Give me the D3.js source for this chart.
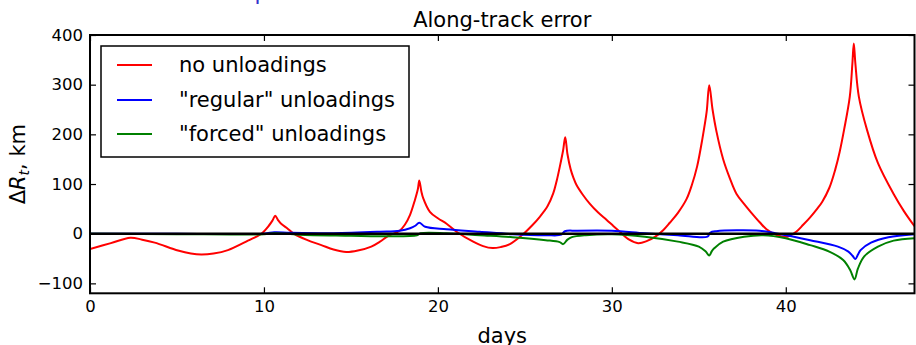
<!DOCTYPE html>
<html>
<head>
<meta charset="utf-8">
<script src="https://cdn.jsdelivr.net/npm/d3@7"></script>
<style>
  html, body { margin: 0; padding: 0; background: #fff; }
  svg { display: block; font-family: "DejaVu Sans", sans-serif; }
</style>
</head>
<body>
<svg id="chart" width="916" height="345"></svg>
<script>
// ---------- data ----------
const title = "Along-track error";
const xLabel = "days";
const seriesNames = ["no unloadings", "\"regular\" unloadings", "\"forced\" unloadings"];
const seriesColors = ["#ff0000", "#0000ff", "#008000"];
const xTicks = [0, 10, 20, 30, 40];
const yTicks = [-100, 0, 100, 200, 300, 400];
const xDomain = [0, 47.4];
const yDomain = [-120, 400];

const noUnloadDays = [0, 1.2, 2.32, 3.0, 3.72, 5.06, 5.8, 6.4, 7.1, 7.93, 9.08, 9.85, 10.3, 10.5, 10.65, 10.8, 10.99, 11.3, 11.76, 12.5, 13.3, 14.0, 14.73, 15.4, 16.17, 16.67, 17.13, 17.8, 18.1, 18.4, 18.68, 18.85, 18.93, 19.05, 19.16, 19.54, 20.0, 20.5, 21.07, 22.03, 22.6, 23.14, 23.6, 24.14, 24.9, 25.4, 25.86, 26.3, 26.63, 26.82, 27.01, 27.2, 27.32, 27.45, 27.63, 27.8, 27.97, 28.3, 28.74, 29.2, 29.69, 30.1, 30.46, 31.0, 31.51, 32.0, 32.5, 32.95, 33.33, 33.8, 34.3, 34.6, 34.9, 35.2, 35.45, 35.6, 35.79, 36.02, 36.4, 36.78, 37.17, 37.6, 38.0, 38.5, 38.89, 39.5, 40.1, 40.6, 41.0, 41.4, 41.8, 42.09, 42.5, 42.85, 43.1, 43.35, 43.68, 43.83, 43.91, 44.0, 44.2, 44.67, 45.3, 46.2, 46.8, 47.4];
const noUnloadVals = [-31, -19, -8, -12, -18, -34, -40, -42, -40, -33, -14, 0, 17, 27, 36, 28, 20, 12, -1, -13, -23, -32, -37, -34, -26, -16, -5, 6, 18, 38, 68, 90, 107, 85, 71, 44, 31, 20, 4, -16, -25, -29, -27, -21, -1, 16, 34, 55, 81, 105, 135, 168, 194, 160, 130, 112, 98, 80, 60, 43, 28, 15, 4, -12, -19, -15, -6, 7, 22, 42, 70, 98, 135, 190, 245, 299, 250, 205, 150, 112, 80, 60, 43, 23, 9, -3, -6, 4, 18, 33, 50, 64, 92, 130, 165, 209, 276, 343, 383, 343, 276, 209, 142, 80, 45, 15];

const regularDays = [0, 5, 10, 10.6, 11.5, 14, 16.67, 17.8, 18.4, 18.7, 18.93, 19.27, 20.5, 22.4, 24.3, 26.2, 27.1, 27.3, 28, 30, 31.9, 33.8, 35.5, 35.65, 36, 38.5, 39.4, 41.4, 43, 43.6, 43.85, 44.0, 44.15, 44.3, 44.9, 45.9, 47.4];
const regularVals = [0, 0, 0, 3, 2, 1, 4, 6, 11, 16, 22, 14, 9, 4, -1, -3, -2, 5, 6, 6, 1, -3, -6, 2, 5, 6, 1, -13, -26, -36, -45, -51, -42, -33, -18, -7, -1];

const forcedDays = [0, 5, 10, 10.6, 12, 15, 16.67, 18.8, 19.0, 20.5, 22.4, 24.3, 26.2, 27.0, 27.2, 27.45, 27.7, 28.5, 30, 31.9, 33.8, 35, 35.4, 35.6, 35.75, 35.9, 36.4, 37.6, 38.7, 40, 41.4, 42.5, 43.3, 43.7, 43.95, 44.15, 44.5, 45.3, 46.2, 47.4];
const forcedVals = [0, -1, -1, 1, -2, -4, -5, -3, 1, 1, -3, -7, -13, -17, -21, -12, -7, -3, -1, -6, -16, -26, -36, -44, -35, -29, -16, -6, -3, -9, -23, -36, -53, -73, -92, -70, -46, -26, -14, -9];

// ---------- layout ----------
const svg = d3.select("#chart");
const L = 90, R = 914.5, T = 35, B = 293.3;
const x = d3.scaleLinear().domain(xDomain).range([L, R]);
const y = d3.scaleLinear().domain(yDomain).range([B, T]);

// partial heading cut off at the very top (as in the reference)
svg.append("text").attr("x", 365).attr("y", 0).attr("text-anchor", "end")
  .attr("font-size", 22).attr("fill", "#3333cc").text("Results of orbit prediction");

svg.append("defs").append("clipPath").attr("id", "plotclip")
  .append("rect").attr("x", L).attr("y", T).attr("width", R - L).attr("height", B - T);

const series = [
  { name: seriesNames[0], color: seriesColors[0], pts: d3.zip(noUnloadDays, noUnloadVals) },
  { name: seriesNames[1], color: seriesColors[1], pts: d3.zip(regularDays, regularVals) },
  { name: seriesNames[2], color: seriesColors[2], pts: d3.zip(forcedDays, forcedVals) }
];

const line = d3.line().x(d => x(d[0])).y(d => y(d[1])).curve(d3.curveCatmullRom.alpha(0.5));
const g = svg.append("g").attr("clip-path", "url(#plotclip)");
series.forEach(s => {
  g.append("path").datum(s.pts).attr("fill", "none").attr("stroke", s.color)
    .attr("stroke-width", 2).attr("stroke-linejoin", "round").attr("d", line);
});
// zero line
g.append("line").attr("x1", L).attr("x2", R).attr("y1", y(0)).attr("y2", y(0))
  .attr("stroke", "#000").attr("stroke-width", 2.5);

// axes (inward ticks on all sides)
const fmt = d => d < 0 ? "\u2212" + Math.abs(d) : String(d);
const tk = 6;
const ax = [
  svg.append("g").attr("transform", `translate(0,${B})`)
    .call(d3.axisBottom(x).tickValues(xTicks).tickFormat(fmt).tickSizeInner(-tk).tickSizeOuter(0).tickPadding(7)),
  svg.append("g").attr("transform", `translate(${L},0)`)
    .call(d3.axisLeft(y).tickValues(yTicks).tickFormat(fmt).tickSizeInner(-tk).tickSizeOuter(0).tickPadding(7)),
  svg.append("g").attr("transform", `translate(0,${T})`)
    .call(d3.axisTop(x).tickValues(xTicks).tickFormat("").tickSizeInner(-tk).tickSizeOuter(0)),
  svg.append("g").attr("transform", `translate(${R},0)`)
    .call(d3.axisRight(y).tickValues(yTicks).tickFormat("").tickSizeInner(-tk).tickSizeOuter(0))
];
ax.forEach(a => {
  a.select(".domain").remove();
  a.selectAll("line").attr("stroke", "#000").attr("stroke-width", 1.2);
  a.selectAll("text").attr("font-family", "DejaVu Sans").attr("font-size", 16.5).attr("fill", "#000");
});

// frame
svg.append("rect").attr("x", L).attr("y", T).attr("width", R - L).attr("height", B - T)
  .attr("fill", "none").attr("stroke", "#000").attr("stroke-width", 2);

// title and labels
svg.append("text").attr("x", (L + R) / 2).attr("y", 27).attr("text-anchor", "middle")
  .attr("font-size", 21).text(title);
svg.append("text").attr("x", (L + R) / 2).attr("y", 343).attr("text-anchor", "middle")
  .attr("font-size", 21).text(xLabel);

const yl = svg.append("text").attr("transform", `translate(25,${(T + B) / 2}) rotate(-90)`)
  .attr("text-anchor", "middle").attr("font-size", 21);
yl.append("tspan").text("\u0394");
yl.append("tspan").attr("font-style", "italic").text("R");
yl.append("tspan").attr("font-style", "italic").attr("font-size", 14).attr("dy", 4).text("t");
yl.append("tspan").attr("dy", -4).text(", km");

// legend
const lg = svg.append("g");
lg.append("rect").attr("x", 101).attr("y", 46).attr("width", 308).attr("height", 111)
  .attr("fill", "#fff").attr("stroke", "#000").attr("stroke-width", 1.5);
const rowY = [65, 100, 134];
series.forEach((s, i) => {
  lg.append("line").attr("x1", 117).attr("x2", 152).attr("y1", rowY[i]).attr("y2", rowY[i])
    .attr("stroke", s.color).attr("stroke-width", 2);
  lg.append("text").attr("x", 179).attr("y", rowY[i] + 7).attr("font-size", 21).text(s.name);
});
</script>
</body>
</html>
